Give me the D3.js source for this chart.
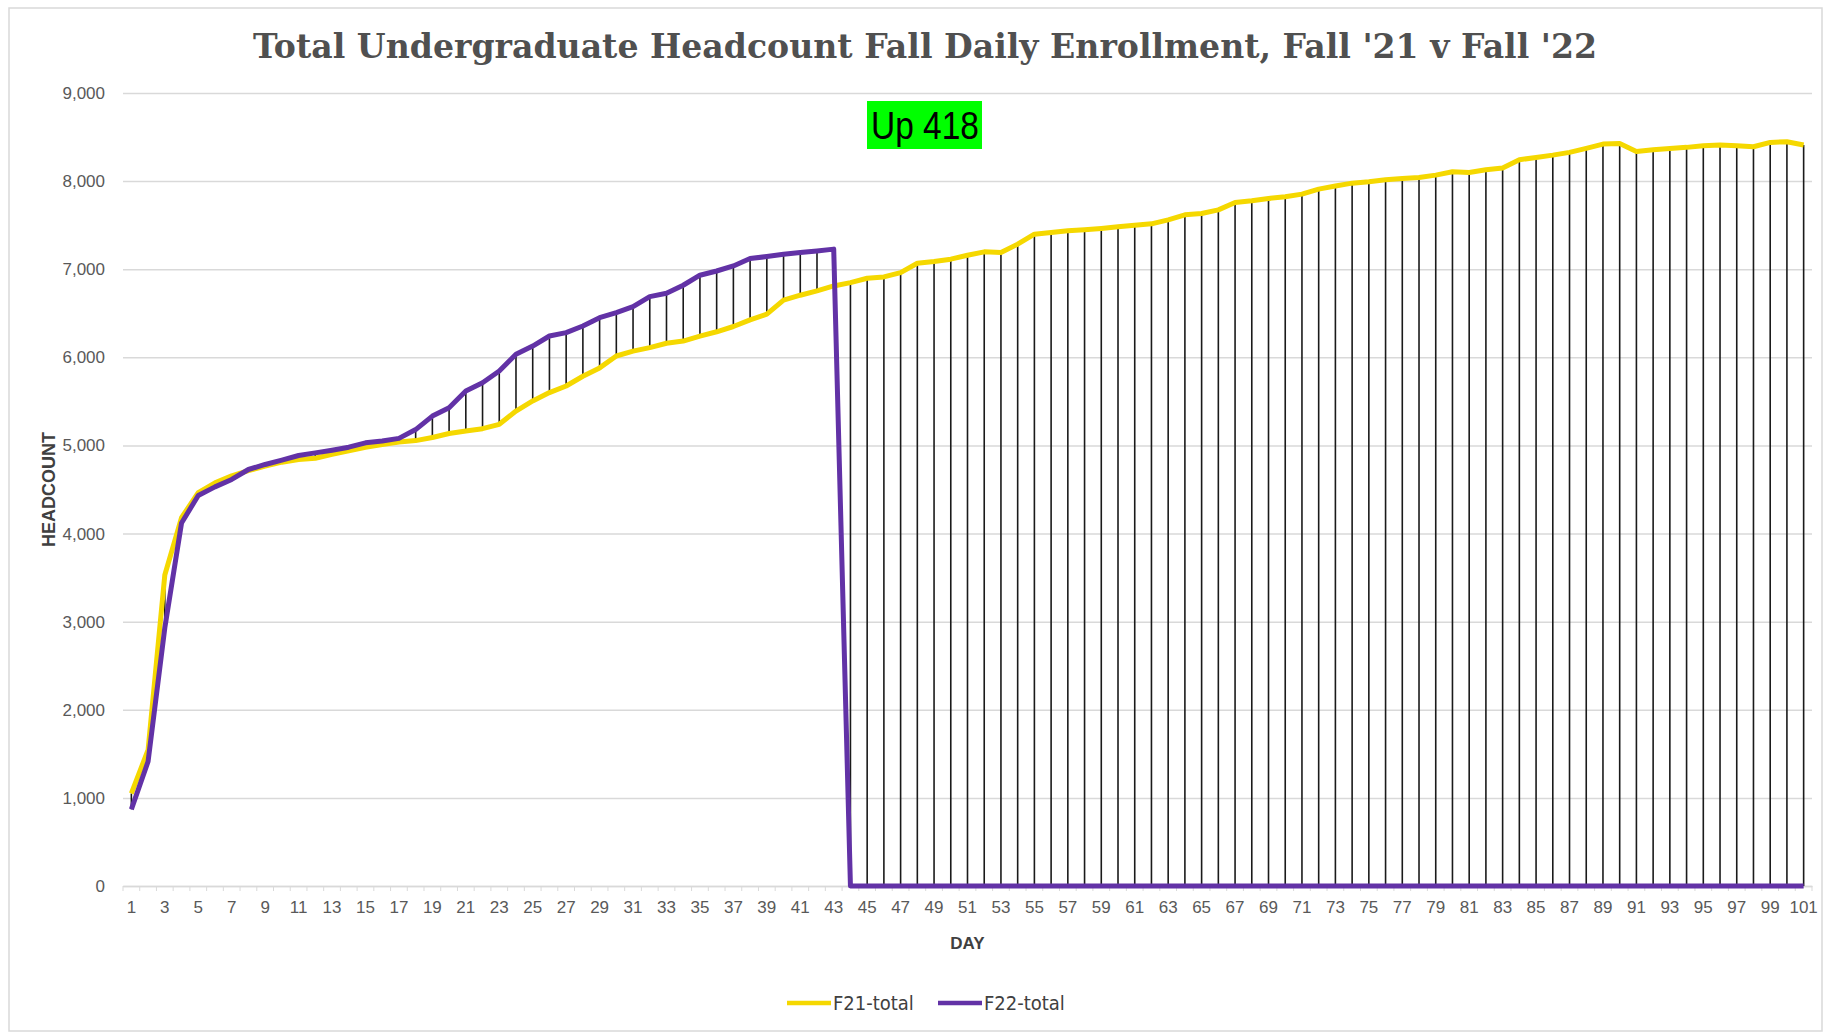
<!DOCTYPE html>
<html>
<head>
<meta charset="utf-8">
<script src="https://cdn.jsdelivr.net/npm/d3@7"></script>
<style>
  body { margin: 0; background: #fff; }
  .tick-label { font-family: "Liberation Sans Narrow", "Liberation Sans", sans-serif; fill: #595959; }
</style>
</head>
<body>
<div id="chart"></div>
<script>
const days = d3.range(1, 102);

const f21Total = [
  1050, 1545, 3530, 4180, 4465, 4575, 4655, 4715, 4765, 4810,
  4840, 4855, 4900, 4940, 4980, 5010, 5040, 5055, 5090, 5135,
  5165, 5190, 5240, 5390, 5505, 5600, 5675, 5785, 5880, 6015,
  6070, 6110, 6160, 6185, 6240, 6290, 6350, 6425, 6490, 6650,
  6705, 6755, 6810, 6848, 6898, 6913, 6962, 7068, 7087, 7114,
  7159, 7197, 7190, 7284, 7398, 7417, 7436, 7447, 7462, 7481,
  7500, 7515, 7560, 7617, 7632, 7674, 7757, 7776, 7803, 7822,
  7852, 7909, 7945, 7977, 7992, 8015, 8030, 8041, 8068, 8106,
  8098, 8129, 8148, 8242, 8269, 8295, 8326, 8371, 8420, 8428,
  8337, 8356, 8371, 8383, 8401, 8409, 8401, 8390, 8439, 8447,
  8409
];

const f22Total = [
  870, 1413, 2930, 4120, 4432, 4530, 4614, 4727, 4784, 4833,
  4886, 4916, 4946, 4980, 5030, 5050, 5080, 5180, 5333, 5428,
  5617, 5712, 5845, 6034, 6128, 6242, 6280, 6356, 6450, 6507,
  6575, 6689, 6727, 6818, 6932, 6980, 7037, 7121, 7144, 7170,
  7189, 7208, 7228, 0, 0, 0, 0, 0, 0, 0,
  0, 0, 0, 0, 0, 0, 0, 0, 0, 0,
  0, 0, 0, 0, 0, 0, 0, 0, 0, 0,
  0, 0, 0, 0, 0, 0, 0, 0, 0, 0,
  0, 0, 0, 0, 0, 0, 0, 0, 0, 0,
  0, 0, 0, 0, 0, 0, 0, 0, 0, 0,
  0
];

const yTicks = [0, 1000, 2000, 3000, 4000, 5000, 6000, 7000, 8000, 9000];
const seriesNames = ['F21-total', 'F22-total'];
const seriesColors = ['#f5d800', '#6232a6'];
const titleText = "Total Undergraduate Headcount Fall Daily Enrollment, Fall '21 v Fall '22";
const noteText = 'Up 418';

const W = 1826, H = 1034;
const margin = { top: 93, right: 14, bottom: 148, left: 123 };
const width = W - margin.left - margin.right;
const height = H - margin.top - margin.bottom;

const svg = d3.select('#chart').append('svg')
  .attr('width', W)
  .attr('height', H);

// outer chart frame
svg.append('rect')
  .attr('x', 9).attr('y', 8)
  .attr('width', 1813).attr('height', 1023)
  .attr('fill', '#fff')
  .attr('stroke', '#d9d9d9')
  .attr('stroke-width', 1.5);

const g = svg.append('g').attr('transform', 'translate(' + margin.left + ',' + margin.top + ')');

const x = d3.scaleBand().domain(days).range([0, width]).padding(0);
const cx = d => x(d) + x.bandwidth() / 2;
const y = d3.scaleLinear().domain([0, 9000]).range([height, 0]);

// gridlines + y labels
const yAxis = g.append('g')
  .call(d3.axisLeft(y).tickValues(yTicks).tickSize(-width).tickFormat(d3.format(',')));
yAxis.select('.domain').remove();
yAxis.selectAll('.tick line').attr('stroke', '#d9d9d9').attr('stroke-width', 1.5);
yAxis.selectAll('.tick text')
  .attr('class', 'tick-label')
  .attr('x', -18)
  .attr('font-size', 17);

// x axis
const xAxis = g.append('g')
  .attr('transform', 'translate(0,' + height + ')')
  .call(d3.axisBottom(x).tickValues(days.filter(d => d % 2 === 1)).tickSize(0));
xAxis.select('.domain').attr('stroke', '#d9d9d9').attr('stroke-width', 1.5);
xAxis.selectAll('.tick text')
  .attr('class', 'tick-label')
  .attr('font-size', 17)
  .attr('dy', '1.4em');

// small tick marks at category boundaries
g.append('g')
  .selectAll('line')
  .data(days.concat([102]))
  .enter().append('line')
    .attr('x1', d => d <= 101 ? x(d) : width)
    .attr('x2', d => d <= 101 ? x(d) : width)
    .attr('y1', height)
    .attr('y2', height + 5)
    .attr('stroke', '#d9d9d9')
    .attr('stroke-width', 1);

// high-low lines
g.append('g')
  .selectAll('line')
  .data(days)
  .enter().append('line')
    .attr('x1', cx)
    .attr('x2', cx)
    .attr('y1', (d, i) => y(Math.max(f21Total[i], f22Total[i])))
    .attr('y2', (d, i) => y(Math.min(f21Total[i], f22Total[i])))
    .attr('stroke', '#1a1a1a')
    .attr('stroke-width', 1.6);

const line = d3.line()
  .x(d => cx(d.day))
  .y(d => y(d.value));

[f21Total, f22Total].forEach(function(values, k) {
  g.append('path')
    .datum(days.map((d, i) => ({ day: d, value: values[i] })))
    .attr('fill', 'none')
    .attr('stroke', seriesColors[k])
    .attr('stroke-width', 5)
    .attr('stroke-linejoin', 'round')
    .attr('d', line);
});

// title
svg.append('text')
  .attr('x', 925)
  .attr('y', 58)
  .attr('text-anchor', 'middle')
  .attr('font-family', '"DejaVu Serif", serif')
  .attr('font-weight', 'bold')
  .attr('font-size', 33)
  .attr('fill', '#505050')
  .attr('textLength', 1344)
  .attr('lengthAdjust', 'spacingAndGlyphs')
  .text(titleText);

// green note
svg.append('rect')
  .attr('x', 867).attr('y', 101)
  .attr('width', 115).attr('height', 48)
  .attr('fill', '#00ff00');
svg.append('text')
  .attr('x', 925)
  .attr('y', 139)
  .attr('text-anchor', 'middle')
  .attr('font-family', '"Liberation Sans Narrow", "Liberation Sans", sans-serif')
  .attr('font-size', 38)
  .attr('fill', '#000')
  .attr('textLength', 108)
  .attr('lengthAdjust', 'spacingAndGlyphs')
  .text(noteText);

// axis titles
svg.append('text')
  .attr('x', margin.left + width / 2)
  .attr('y', 949)
  .attr('text-anchor', 'middle')
  .attr('font-family', '"Liberation Sans Narrow", "Liberation Sans", sans-serif')
  .attr('font-weight', 'bold')
  .attr('font-size', 17)
  .attr('fill', '#404040')
  .text('DAY');

svg.append('text')
  .attr('transform', 'translate(55,' + (margin.top + height / 2) + ') rotate(-90)')
  .attr('text-anchor', 'middle')
  .attr('font-family', '"Liberation Sans Narrow", "Liberation Sans", sans-serif')
  .attr('font-weight', 'bold')
  .attr('font-size', 18)
  .attr('fill', '#404040')
  .text('HEADCOUNT');

// legend
const legendX = [787, 938];
const legend = svg.append('g')
  .selectAll('g')
  .data(seriesNames)
  .enter().append('g')
    .attr('transform', (d, i) => 'translate(' + legendX[i] + ',1003)');
legend.append('line')
  .attr('x1', 0).attr('x2', 44)
  .attr('stroke', (d, i) => seriesColors[i])
  .attr('stroke-width', 4.5);
legend.append('text')
  .attr('x', 46)
  .attr('y', 7)
  .attr('font-family', '"DejaVu Sans Condensed", "DejaVu Sans", sans-serif')
  .attr('font-size', 20)
  .attr('fill', '#404040')
  .text(d => d);
</script>
</body>
</html>
